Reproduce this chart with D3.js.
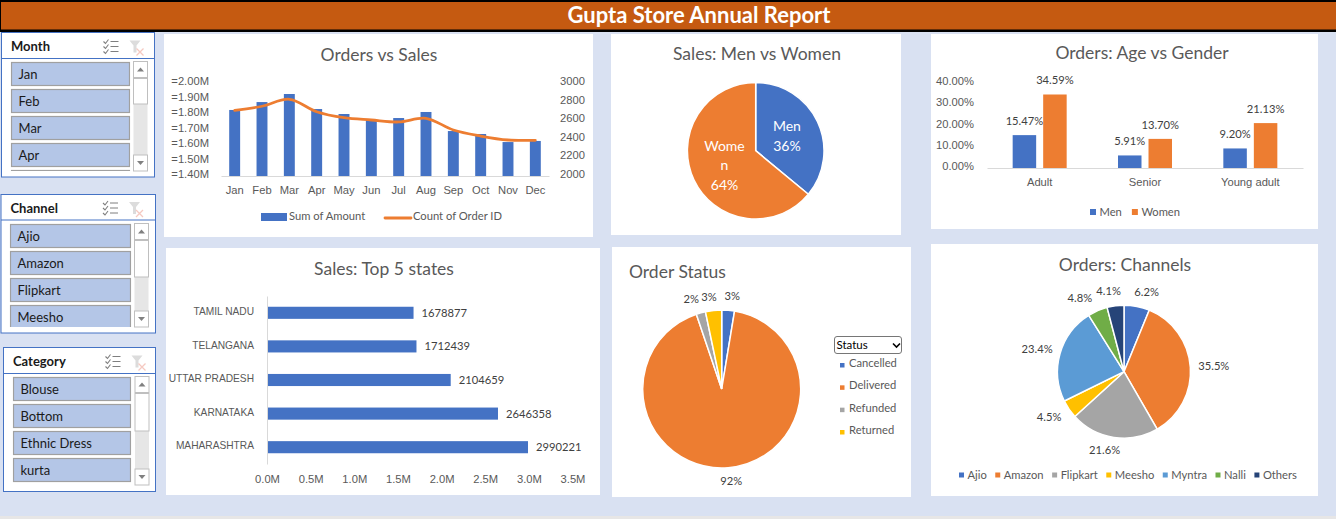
<!DOCTYPE html>
<html>
<head>
<meta charset="utf-8">
<title>Gupta Store Annual Report</title>
<script src="https://cdn.jsdelivr.net/npm/d3@7"></script>
<style>
  html, body { margin: 0; padding: 0; background: #D9E1F2; overflow: hidden; }
  svg { display: block; font-family: Lato, "Open Sans", sans-serif; }
  .tick text, .lbl { font-size: 11.2px; fill: #595959; }
  .val { font-size: 11.2px; fill: #404040; }
  .title { font-size: 17.5px; fill: #595959; }
</style>
</head>
<body>
<svg id="report" width="1336" height="519"></svg>
<script>
const months = ['Jan', 'Feb', 'Mar', 'Apr', 'May', 'Jun', 'Jul', 'Aug', 'Sep', 'Oct', 'Nov', 'Dec'];
const sumOfAmount = [1.826, 1.877, 1.929, 1.832, 1.80, 1.761, 1.774, 1.813, 1.69, 1.671, 1.619, 1.626];
const countOfOrders = [2706, 2750, 2825, 2691, 2627, 2602, 2581, 2620, 2495, 2430, 2387, 2384];
const amountTicks = [1.4, 1.5, 1.6, 1.7, 1.8, 1.9, 2.0];
const orderTicks = [2000, 2200, 2400, 2600, 2800, 3000];

const genders = ['Men', 'Women'];
const genderSales = [36, 64];

const ageGroups = ['Adult', 'Senior', 'Young adult'];
const menShare = [15.47, 5.91, 9.20];
const womenShare = [34.59, 13.70, 21.13];
const shareTicks = [0, 10, 20, 30, 40];

const states = ['TAMIL NADU', 'TELANGANA', 'UTTAR PRADESH', 'KARNATAKA', 'MAHARASHTRA'];
const stateSales = [1678877, 1712439, 2104659, 2646358, 2990221];
const salesTicks = [0, 0.5, 1, 1.5, 2, 2.5, 3, 3.5];

const statuses = ['Cancelled', 'Delivered', 'Refunded', 'Returned'];
const statusShare = [2.6, 92.2, 1.9, 3.3];

const channels = ['Ajio', 'Amazon', 'Flipkart', 'Meesho', 'Myntra', 'Nalli', 'Others'];
const channelShare = [6.2, 35.5, 21.6, 4.5, 23.4, 4.8, 4.1];

const monthItems = ['Jan', 'Feb', 'Mar', 'Apr', 'May'];
const channelItems = ['Ajio', 'Amazon', 'Flipkart', 'Meesho'];
const categoryItems = ['Blouse', 'Bottom', 'Ethnic Dress', 'kurta'];

const BLUE = '#4472C4', ORANGE = '#ED7D31', GRAY = '#A5A5A5', GOLD = '#FFC000';
const LIGHTBLUE = '#5B9BD5', GREEN = '#70AD47', NAVY = '#264478';
const GRID = '#D9D9D9';

const svg = d3.select('#report');

// page furniture
svg.append('rect').attr('y', 516).attr('width', 1336).attr('height', 3).attr('fill', '#E7E6E6');
svg.append('rect').attr('width', 1336).attr('height', 32).attr('fill', '#000');
svg.append('rect').attr('x', 1).attr('y', 2).attr('width', 1335).attr('height', 27.5).attr('fill', '#C55A11');
svg.append('text').attr('x', 699).attr('y', 23).attr('text-anchor', 'middle')
  .style('font-size', '22px').style('font-weight', 700).style('fill', '#fff')
  .text('Gupta Store Annual Report');

function panel(x0, y0, x1, y1) {
  svg.append('rect').attr('x', x0).attr('y', y0).attr('width', x1 - x0).attr('height', y1 - y0).attr('fill', '#fff');
}

function title(text, x, y, anchor) {
  svg.append('text').attr('class', 'title').attr('x', x).attr('y', y + 6)
    .attr('text-anchor', anchor || 'middle').text(text);
}

// flowing legend: swatch + label, next item starts after the measured label
function flowLegend(names, colors, x, y, size, gap) {
  let cx = x;
  names.forEach((name, i) => {
    svg.append('rect').attr('x', cx).attr('y', y - size / 2).attr('width', size).attr('height', size).attr('fill', colors[i]);
    const t = svg.append('text').attr('class', 'lbl').attr('x', cx + size + 3.5).attr('y', y + 4).text(name);
    cx += size + 3.5 + t.node().getComputedTextLength() + gap;
  });
}

function pie(values, colors, cx, cy, r, strokeW) {
  const arcs = d3.pie().sort(null)(values);
  const arc = d3.arc().innerRadius(0).outerRadius(r);
  const g = svg.append('g').attr('transform', `translate(${cx},${cy})`);
  g.selectAll('path').data(arcs).join('path')
    .attr('d', arc)
    .attr('fill', (d, i) => colors[i])
    .attr('stroke', '#fff').attr('stroke-width', strokeW);
  return { arcs, g };
}

function outerLabels(p, labelR, texts, nudges) {
  const la = d3.arc().innerRadius(labelR).outerRadius(labelR);
  p.arcs.forEach((d, i) => {
    const [x, y] = la.centroid(d);
    p.g.append('text').attr('class', 'val')
      .attr('x', x + nudges[i][0]).attr('y', y + nudges[i][1] + 4)
      .attr('text-anchor', 'middle').text(texts[i]);
  });
}

function drawOrdersVsSales() {
  panel(164, 34, 593, 237);
  title('Orders vs Sales', 379, 55);

  const x = d3.scaleBand().domain(months).range([221, 549]).paddingInner(0.6).paddingOuter(0.3);
  const yL = d3.scaleLinear().domain([1.4, 2.0]).range([176, 83]);
  const yR = d3.scaleLinear().domain([2000, 3000]).range([176, 83]);

  svg.selectAll('.amount').data(months).join('rect').attr('class', 'amount')
    .attr('x', d => x(d)).attr('width', x.bandwidth())
    .attr('y', (d, i) => yL(sumOfAmount[i]))
    .attr('height', (d, i) => yL(1.4) - yL(sumOfAmount[i]))
    .attr('fill', BLUE);

  const line = d3.line()
    .x((d, i) => x(months[i]) + x.bandwidth() / 2)
    .y(d => yR(d))
    .curve(d3.curveCatmullRom.alpha(0.5));
  svg.append('path').attr('d', line(countOfOrders))
    .attr('fill', 'none').attr('stroke', ORANGE).attr('stroke-width', 2.8).attr('stroke-linecap', 'round');

  const axX = svg.append('g').attr('transform', 'translate(0,176)')
    .call(d3.axisBottom(x).tickSize(0).tickPadding(10));
  axX.select('.domain').attr('stroke', GRID);
  svg.append('g').attr('transform', 'translate(212,0)')
    .call(d3.axisLeft(yL).tickValues(amountTicks).tickSize(0).tickFormat(d => '=' + d.toFixed(2) + 'M'))
    .call(g => g.select('.domain').remove())
    .call(g => g.selectAll('.tick text').attr('y', -2));
  svg.append('g').attr('transform', 'translate(557,0)')
    .call(d3.axisRight(yR).tickValues(orderTicks).tickSize(0).tickFormat(d3.format('d')))
    .call(g => g.select('.domain').remove())
    .call(g => g.selectAll('.tick text').attr('y', -2));

  // legend
  svg.append('rect').attr('x', 261).attr('y', 213).attr('width', 26).attr('height', 8).attr('fill', BLUE);
  svg.append('text').attr('class', 'lbl').attr('x', 289).attr('y', 220).text('Sum of Amount');
  svg.append('line').attr('x1', 385).attr('x2', 411).attr('y1', 218).attr('y2', 218)
    .attr('stroke', ORANGE).attr('stroke-width', 2.8).attr('stroke-linecap', 'round');
  svg.append('text').attr('class', 'lbl').attr('x', 413).attr('y', 220).text('Count of Order ID');
}

function drawMenVsWomen() {
  panel(611, 34, 901, 235);
  title('Sales: Men vs Women', 757, 54);
  const p = pie(genderSales, [BLUE, ORANGE], 755.7, 150.7, 68.3, 1.5);
  const la = d3.arc().innerRadius(34.5).outerRadius(34.5);
  const wrapped = [[genders[0], genderSales[0] + '%'], ['Wome', 'n', genderSales[1] + '%']];
  p.arcs.forEach((d, i) => {
    const [x, y] = la.centroid(d);
    const lines = wrapped[i];
    lines.forEach((s, k) => {
      p.g.append('text').attr('x', x).attr('y', y + (k - (lines.length - 1) / 2) * 19.5 + 5)
        .attr('text-anchor', 'middle').style('font-size', '14px').style('fill', '#fff').text(s);
    });
  });
}

function drawAgeGender() {
  panel(931, 34, 1318, 229);
  title('Orders: Age vs Gender', 1142, 53);

  const x0 = d3.scaleBand().domain(ageGroups).range([987, 1303]);
  const x1 = d3.scaleBand().domain(genders)
    .range([x0.bandwidth() / 2 - 27, x0.bandwidth() / 2 + 27]).paddingInner(0.23);
  const y = d3.scaleLinear().domain([0, 40]).range([168, 83]);
  const series = [menShare, womenShare];
  const colors = [BLUE, ORANGE];

  genders.forEach((gender, s) => {
    ageGroups.forEach((group, i) => {
      const bx = x0(group) + x1(gender);
      svg.append('rect').attr('x', bx).attr('width', x1.bandwidth())
        .attr('y', y(series[s][i])).attr('height', y(0) - y(series[s][i]))
        .attr('fill', colors[s]);
      svg.append('text').attr('class', 'val')
        .attr('x', bx + x1.bandwidth() / 2).attr('y', y(series[s][i]) - 10)
        .attr('text-anchor', 'middle').text(series[s][i].toFixed(2) + '%');
    });
  });

  svg.append('g').attr('transform', 'translate(0,168)')
    .call(d3.axisBottom(x0).tickSize(0).tickPadding(10))
    .select('.domain').attr('stroke', GRID);
  svg.append('g').attr('transform', 'translate(977,0)')
    .call(d3.axisLeft(y).tickValues(shareTicks).tickSize(0).tickFormat(d => d.toFixed(2) + '%'))
    .call(g => g.select('.domain').remove())
    .call(g => g.selectAll('.tick text').attr('y', -2));

  flowLegend(genders, colors, 1090, 212, 6, 10);
}

function drawTopStates() {
  panel(166, 248, 600, 495);
  title('Sales: Top 5 states', 384, 269);

  const x = d3.scaleLinear().domain([0, 3.5e6]).range([267, 572.5]);
  const y = d3.scaleBand().domain(states).range([296, 464]).paddingInner(0.64).paddingOuter(0.32);

  svg.selectAll('.state').data(states).join('rect').attr('class', 'state')
    .attr('x', x(0)).attr('y', d => y(d)).attr('height', y.bandwidth())
    .attr('width', (d, i) => x(stateSales[i]) - x(0))
    .attr('fill', BLUE);
  svg.selectAll('.stateval').data(states).join('text').attr('class', 'val stateval')
    .attr('x', (d, i) => x(stateSales[i]) + 8)
    .attr('y', d => y(d) + y.bandwidth() / 2 + 4)
    .text((d, i) => stateSales[i]);

  svg.append('g').attr('transform', 'translate(267,0)')
    .call(d3.axisLeft(y).tickSize(0).tickPadding(13))
    .call(g => g.select('.domain').attr('stroke', GRID))
    .call(g => g.selectAll('.tick text').attr('y', -1).style('font-size', '10.2px'));
  svg.append('g').attr('transform', 'translate(0,475)')
    .call(d3.axisBottom(x).tickValues(salesTicks.map(d => d * 1e6)).tickSize(0).tickPadding(0)
      .tickFormat(d => (d / 1e6).toFixed(1) + 'M'))
    .call(g => g.select('.domain').remove());
}

function drawOrderStatus() {
  panel(612, 247, 911, 497);
  title('Order Status', 629, 272, 'start');
  const colors = [BLUE, ORANGE, GRAY, GOLD];
  const p = pie(statusShare, colors, 721.7, 389, 79, 1.5);
  outerLabels(p, 93, statusShare.map(d => Math.round(d) + '%'),
    [[3, 0], [2, -1], [-6, 0], [-3, 0]]);

  // status dropdown
  svg.append('rect').attr('x', 834.5).attr('y', 336.5).attr('width', 67).attr('height', 17).attr('rx', 2.5)
    .attr('fill', '#fff').attr('stroke', '#767676');
  svg.append('text').attr('x', 836.5).attr('y', 349).style('font-size', '11.5px').style('fill', '#000').text('Status');
  svg.append('path').attr('d', 'M893 343.5 l3.5 3.5 l3.5 -3.5').attr('fill', 'none').attr('stroke', '#000').attr('stroke-width', 1.6);

  const ly = d3.scalePoint().domain(statuses).range([365, 432]);
  statuses.forEach((s, i) => {
    svg.append('rect').attr('x', 840).attr('y', ly(s) - 2).attr('width', 4.5).attr('height', 4.5).attr('fill', colors[i]);
    svg.append('text').attr('class', 'lbl').attr('x', 849).attr('y', ly(s) + 2).text(s);
  });
}

function drawChannels() {
  panel(931, 244, 1318, 496);
  title('Orders: Channels', 1125, 265);
  const colors = [BLUE, ORANGE, GRAY, GOLD, LIGHTBLUE, GREEN, NAVY];
  const p = pie(channelShare, colors, 1124, 371.7, 66.5, 1.5);
  outerLabels(p, 81, channelShare.map(d => d.toFixed(1) + '%'),
    [[7, 0], [9, 0], [-7, -2], [-8, 0], [-9, 0], [-12, 1], [-5, 0]]);
  flowLegend(channels, colors, 959, 475, 5, 8.5);
}

// excel style slicer box
function slicer(name, items, box, itemX, itemW, itemY, itemH, step, bar) {
  const id = 'clip-' + name;
  svg.append('rect').attr('x', box.x0).attr('y', box.y0)
    .attr('width', box.x1 - box.x0).attr('height', box.y1 - box.y0)
    .attr('fill', '#fff').attr('stroke', BLUE).attr('stroke-width', 1);
  svg.append('line').attr('x1', box.x0).attr('x2', box.x1).attr('y1', box.head).attr('y2', box.head)
    .attr('stroke', BLUE);
  svg.append('text').attr('x', box.x0 + 9.5).attr('y', box.head - 7.5)
    .style('font-size', '13px').style('font-weight', 700).style('fill', '#1a1a1a').text(name);

  // multi-select icon
  const ix = box.x0 + 102, iy = box.head - 18;
  const ticks = svg.append('g').attr('fill', 'none').attr('stroke', '#7f7f7f');
  [0, 5, 10].forEach(d => {
    ticks.append('path').attr('d', `M${ix} ${iy + d + 1} l2 2 l3 -4`).attr('stroke-width', 1.1);
    ticks.append('line').attr('x1', ix + 7).attr('x2', ix + 15).attr('y1', iy + d + 1).attr('y2', iy + d + 1);
  });
  // clear filter icon, greyed out
  const fx = box.x0 + 128;
  svg.append('path').attr('d', `M${fx} ${iy} h11 l-4 5 v7 h-3 v-7 z`).attr('fill', '#dcdcdc');
  svg.append('path').attr('d', `M${fx + 7} ${iy + 8} l7 7 M${fx + 14} ${iy + 8} l-7 7`)
    .attr('stroke', '#f5c9c1').attr('stroke-width', 1.3);

  svg.append('clipPath').attr('id', id).append('rect')
    .attr('x', itemX - 1).attr('y', box.head + 1).attr('width', itemW + 2).attr('height', box.clip - box.head - 1);
  const g = svg.append('g').attr('clip-path', `url(#${id})`);
  items.forEach((item, i) => {
    const y = itemY + i * step;
    g.append('rect').attr('x', itemX).attr('y', y).attr('width', itemW).attr('height', itemH)
      .attr('fill', '#B4C6E7').attr('stroke', '#A0A0A0').attr('stroke-width', 1.2);
    g.append('text').attr('x', itemX + 7).attr('y', y + itemH / 2 + 4.5)
      .style('font-size', '13px').style('fill', '#1a1a1a').text(item);
  });

  // scrollbar
  svg.append('rect').attr('x', bar.x).attr('y', bar.y0).attr('width', 14).attr('height', bar.y1 - bar.y0).attr('fill', '#E6E6E6');
  const btn = (y0, y1) => svg.append('rect').attr('x', bar.x).attr('y', y0).attr('width', 14).attr('height', y1 - y0)
    .attr('fill', '#fff').attr('stroke', '#BFBFBF');
  btn(bar.y0, bar.y0 + 16);
  btn(bar.y0 + 17, bar.thumb);
  btn(bar.y1 - 16, bar.y1);
  const mid = bar.x + 7;
  svg.append('path').attr('d', `M${mid - 3.5} ${bar.y0 + 10} h7 l-3.5 -4 z`).attr('fill', '#808080');
  svg.append('path').attr('d', `M${mid - 3.5} ${bar.y1 - 10} h7 l-3.5 4 z`).attr('fill', '#808080');
}

drawOrdersVsSales();
drawMenVsWomen();
drawAgeGender();
drawTopStates();
drawOrderStatus();
drawChannels();

slicer('Month', monthItems, { x0: 1.5, x1: 154.5, y0: 32.5, y1: 177, head: 58.5, clip: 171 },
  11.5, 118, 62.5, 23, 27, { x: 133.5, y0: 61.5, y1: 171, thumb: 104 });
slicer('Channel', channelItems, { x0: 1, x1: 155.5, y0: 194.5, y1: 333, head: 220, clip: 327 },
  10.5, 120, 224.5, 23, 27, { x: 134.5, y0: 223.5, y1: 327, thumb: 277 });
slicer('Category', categoryItems, { x0: 3.5, x1: 155.5, y0: 347.5, y1: 491.5, head: 373.5, clip: 484 },
  13.5, 117, 377.5, 23, 27, { x: 135, y0: 376.5, y1: 485, thumb: 431 });
</script>
</body>
</html>
